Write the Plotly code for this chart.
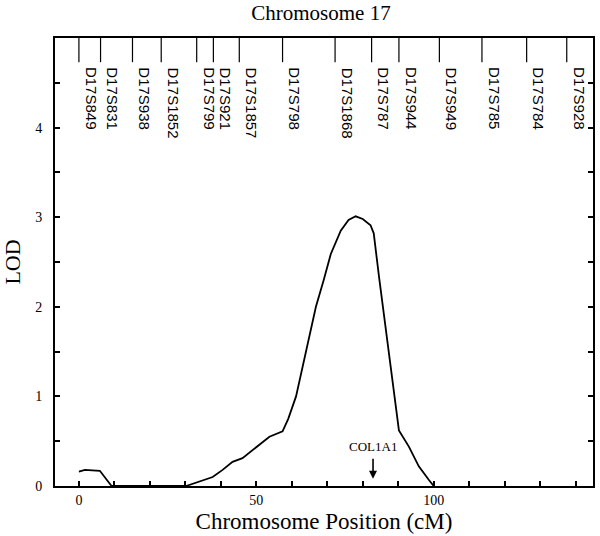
import plotly.graph_objects as go

# Data
position_cm = [0, 1.7, 5.9, 9.2, 30.2, 34, 37.7, 40.5, 43.3, 46.1, 50.3, 53.7, 57.4, 59,
               61.2, 64, 66.8, 69, 71, 73.8, 76, 78, 80, 82.2, 83.1, 84.6, 85.7, 87, 88.3,
               90.2, 93, 95.8, 98.6, 100]
lod = [0.16, 0.18, 0.17, 0, 0, 0.05, 0.10, 0.18, 0.27, 0.31, 0.44, 0.55, 0.61, 0.75,
       1.0, 1.5, 2.0, 2.3, 2.59, 2.85, 2.97, 3.01, 2.98, 2.91, 2.82, 2.33, 2.0, 1.6, 1.18,
       0.62, 0.44, 0.22, 0.07, 0]

marker_names = ["D17S849", "D17S831", "D17S938", "D17S1852", "D17S799", "D17S921",
                "D17S1857", "D17S798", "D17S1868", "D17S787", "D17S944", "D17S949",
                "D17S785", "D17S784", "D17S928"]
marker_pos = [0, 6.1, 15.1, 23.2, 33.2, 37.9, 45.2, 57.4, 72.2, 82.5, 90.2, 101.6,
              113.6, 126.2, 137.5]

gene_name = "COL1A1"
gene_pos = 82.9

x_ticks = list(range(0, 150, 10))
x_labels = [str(v) if v in (0, 50, 100) else "" for v in x_ticks]
y_ticks = [i * 0.5 for i in range(10)]
y_labels = [str(int(v)) if v == int(v) else "" for v in y_ticks]

serif = "Liberation Serif, Times New Roman, serif"
sans = "Liberation Sans, Arial, sans-serif"

fig = go.Figure()

fig.add_trace(go.Scatter(x=position_cm, y=lod, mode="lines",
                         line=dict(color="black", width=1.8), showlegend=False,
                         hoverinfo="skip"))

# marker stems from top frame
sx, sy = [], []
for p in marker_pos:
    sx += [p, p, None]
    sy += [5, 4.73, None]
fig.add_trace(go.Scatter(x=sx, y=sy, mode="lines", line=dict(color="black", width=1.2),
                         showlegend=False, hoverinfo="skip", cliponaxis=False))

for name, p in zip(marker_names, marker_pos):
    fig.add_annotation(x=p, y=4.695, text=name, textangle=90, showarrow=False,
                       xanchor="center", yanchor="top", xshift=12,
                       font=dict(family=sans, size=15, color="black"))

fig.add_annotation(x=gene_pos, y=0.44, text=gene_name, showarrow=False,
                   font=dict(family=serif, size=13, color="black"))
fig.add_annotation(x=gene_pos, y=0.08, ax=gene_pos, ay=0.32, axref="x", ayref="y",
                   text="", showarrow=True, arrowhead=2, arrowsize=1, arrowwidth=1.6,
                   arrowcolor="black")

fig.update_layout(
    width=600, height=536,
    margin=dict(l=55, r=5, t=38, b=50),
    plot_bgcolor="white", paper_bgcolor="white",
    title=dict(text="Chromosome 17", x=0.535, xanchor="center", y=0.976, yanchor="middle",
               font=dict(family=serif, size=21, color="black")),
    xaxis=dict(range=[-6.74, 144.9], tickvals=x_ticks, ticktext=x_labels,
               ticks="inside", ticklen=5, tickwidth=1.5, tickcolor="black",
               showline=True, linecolor="black", linewidth=2, mirror=True,
               showgrid=False, zeroline=False,
               tickfont=dict(family=serif, size=14, color="black"),
               title=dict(text="Chromosome Position (cM)", standoff=6,
                          font=dict(family=serif, size=23, color="black"))),
    yaxis=dict(range=[0, 5], tickvals=y_ticks, ticktext=y_labels,
               ticks="inside", ticklen=5, tickwidth=1.5, tickcolor="black",
               showline=True, linecolor="black", linewidth=2, mirror="ticks",
               showgrid=False, zeroline=False, ticklabelstandoff=8,
               tickfont=dict(family=serif, size=14, color="black"),
               title=dict(text="LOD", standoff=11,
                          font=dict(family=serif, size=22, color="black"))),
)

fig.write_html("out.html", config={"displayModeBar": False},
               post_script="document.body.style.margin='0';")
